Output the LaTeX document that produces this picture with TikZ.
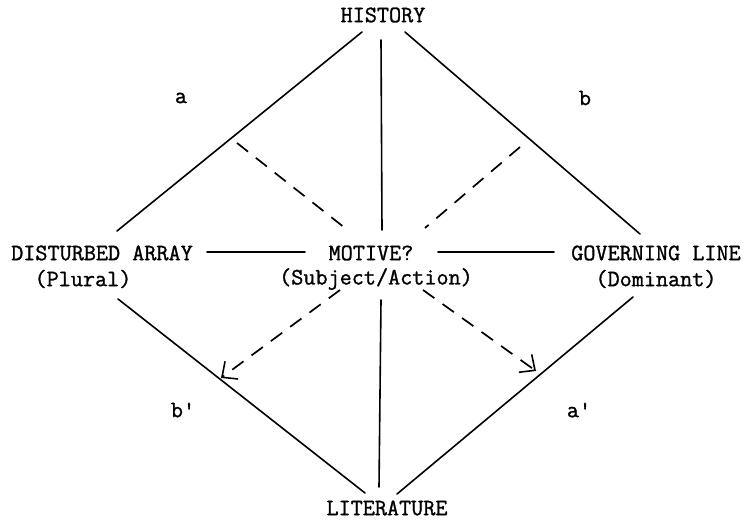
\documentclass[tikz,border=0pt]{standalone}
\usepackage{fontspec}
\newfontfamily\tw{Latin Modern Mono}[FakeBold=1.2]
\usetikzlibrary{arrows.meta}
\tikzset{
  lbl/.style={font=\tw\fontsize{23.5}{26}\selectfont, inner sep=0pt, anchor=center},
  solidln/.style={line width=1.6pt, line cap=round},
  dashln/.style={line width=1.7pt, dash pattern=on 14pt off 10pt},
  arr/.style={dashln, -{Straight Barb[length=12pt,width=22pt,line width=1.6pt]}}
}
\begin{document}
\begin{tikzpicture}[x=1pt,y=-1pt]
\useasboundingbox (0,0) rectangle (746,521);
% text nodes
\node[lbl] (history) at (383,15) {HISTORY};
\node[lbl] (dist) at (102,253) {DISTURBED ARRAY};
\node[lbl] (plural) at (83,279) {(Plural)};
\node[lbl] (motive) at (371,253) {MOTIVE?};
\node[lbl] (subj) at (376,279) {(Subject/Action)};
\node[lbl] (gov) at (656,253) {GOVERNING LINE};
\node[lbl] (dom) at (656,279) {(Dominant)};
\node[lbl] (lit) at (387,508) {LITERATURE};
\node[lbl] (la) at (181,98) {a};
\node[lbl] (lb) at (585,98) {b};
\node[lbl] (lbp) at (183,410) {b\char"27};
\node[lbl] (lap) at (579,410) {a\char"27};
% endpoints
\coordinate (h1) at (362,32);
\coordinate (h2) at (381,40);
\coordinate (h3) at (405,32);
\coordinate (d1) at (117,231);
\coordinate (m1) at (382,230);
\coordinate (g1) at (640,234);
\coordinate (ds1) at (237,143);
\coordinate (ds2) at (345,228);
\coordinate (ds3) at (520,147);
\coordinate (ds4) at (425,228);
\coordinate (hl1) at (207,252);
\coordinate (hl2) at (305,252);
\coordinate (hr1) at (438,252);
\coordinate (hr2) at (554,252);
\coordinate (d2) at (118,299);
\coordinate (m2) at (381,300);
\coordinate (g2) at (633,297);
\coordinate (l1) at (365,493);
\coordinate (l2) at (379,487);
\coordinate (l3) at (397,494);
\coordinate (al1) at (340,290);
\coordinate (al2) at (221,378);
\coordinate (ar1) at (423,290);
\coordinate (ar2) at (536,371);
% connectors
\draw[solidln] (h1) -- (d1);
\draw[solidln] (h2) -- (m1);
\draw[solidln] (h3) -- (g1);
\draw[dashln] (ds1) -- (ds2);
\draw[dashln] (ds3) -- (ds4);
\draw[solidln] (hl1) -- (hl2);
\draw[solidln] (hr1) -- (hr2);
\draw[solidln] (d2) -- (l1);
\draw[solidln] (m2) -- (l2);
\draw[solidln] (g2) -- (l3);
\draw[arr] (al1) -- (al2);
\draw[arr] (ar1) -- (ar2);
\end{tikzpicture}
\end{document}
